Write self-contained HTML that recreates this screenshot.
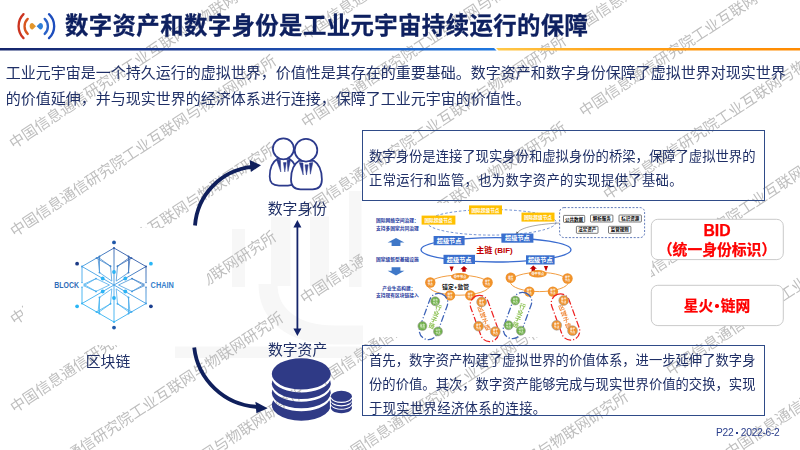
<!DOCTYPE html>
<html lang="zh-CN">
<head>
<meta charset="utf-8">
<title>数字资产和数字身份是工业元宇宙持续运行的保障</title>
<style>
html,body{margin:0;padding:0;background:#fff}
body{width:800px;height:450px;position:relative;overflow:hidden;font-family:"Liberation Sans","Noto Sans CJK SC",sans-serif;color:#1f2f66}
.abs{position:absolute}
.wm{position:absolute;white-space:nowrap;font-size:15.0px;line-height:20px;height:20px;color:#bebebe;transform-origin:0 50%;transform:rotate(-33.5deg)}
#txt{position:absolute;left:0;top:0;width:800px;height:450px;will-change:transform}
#wml{position:absolute;left:0;top:0;width:800px;height:450px;overflow:hidden;will-change:transform}
#gfx{position:absolute;left:0;top:0;width:800px;height:450px}
.title{position:absolute;left:65px;top:9.5px;font-size:23.4px;letter-spacing:0.4px;line-height:32px;font-weight:bold;color:#0e2060;-webkit-text-stroke:0.28px #0e2060;white-space:nowrap}
.body{position:absolute;left:5.8px;top:60.3px;font-size:15px;line-height:26px;white-space:nowrap;color:#1f2f66}
.lbl{position:absolute;font-size:14.8px;line-height:20px;white-space:nowrap;text-align:center;color:#1f2f66}
.box{position:absolute;box-sizing:border-box;border:1.2px solid #2f4b88}
.bt{position:absolute;font-size:13.33px;white-space:nowrap;color:#1f2f66;width:385.5px;text-align:justify;text-align-last:justify}
.bt.l{text-align-last:left;letter-spacing:0.32px}
.red{position:absolute;color:#fe0000;-webkit-text-stroke:0.25px #fe0000;font-weight:bold;text-align:center;white-space:nowrap}
.foot{position:absolute;left:716px;top:426.6px;font-size:10.2px;letter-spacing:-0.28px;line-height:12px;color:#2b3f8c;white-space:nowrap}
</style>
</head>
<body>
<!-- faint background logo -->
<svg class="abs" style="left:0;top:0" width="800" height="450" viewBox="0 0 800 450">
<g fill="#f7f7f7"><rect x="232" y="229" width="13" height="58"/><rect x="271" y="217" width="19.5" height="69"/><rect x="310" y="216.5" width="19" height="69.5"/><rect x="349" y="191" width="12.5" height="96"/><rect x="175" y="346.5" width="188" height="11.5"/></g>
<path d="M268,284 C268,314 292,335 335,335 L363,335" stroke="#f7f7f7" stroke-width="19" fill="none"/>
</svg>
<!-- watermark -->
<div id="wml">

<div class="wm" style="left:11.4px;top:134.6px">中国信息通信研究院工业互联网与物联网研究所</div>
<div class="wm" style="left:11.5px;top:223.3px">中国信息通信研究院工业互联网与物联网研究所</div>
<div class="wm" style="left:11.9px;top:310.6px">中国信息通信研究院工业互联网与物联网研究所</div>
<div class="wm" style="left:11.5px;top:398.7px">中国信息通信研究院工业互联网与物联网研究所</div>
<div class="wm" style="left:18.6px;top:480.3px">中国信息通信研究院工业互联网与物联网研究所</div>
<div class="wm" style="left:40.3px;top:554.5px">中国信息通信研究院工业互联网与物联网研究所</div>
<div class="wm" style="left:302.6px;top:25.8px">中国信息通信研究院工业互联网与物联网研究所</div>
<div class="wm" style="left:302.6px;top:114.0px">中国信息通信研究院工业互联网与物联网研究所</div>
<div class="wm" style="left:302.0px;top:202.9px">中国信息通信研究院工业互联网与物联网研究所</div>
<div class="wm" style="left:302.4px;top:289.5px">中国信息通信研究院工业互联网与物联网研究所</div>
<div class="wm" style="left:317.4px;top:373.6px">中国信息通信研究院工业互联网与物联网研究所</div>
<div class="wm" style="left:339.6px;top:451.3px">中国信息通信研究院工业互联网与物联网研究所</div>
<div class="wm" style="left:363.6px;top:559.3px">中国信息通信研究院工业互联网与物联网研究所</div>
<div class="wm" style="left:564.6px;top:-62.7px">中国信息通信研究院工业互联网与物联网研究所</div>
<div class="wm" style="left:572.0px;top:21.1px">中国信息通信研究院工业互联网与物联网研究所</div>
<div class="wm" style="left:581.3px;top:102.6px">中国信息通信研究院工业互联网与物联网研究所</div>
<div class="wm" style="left:605.3px;top:186.0px">中国信息通信研究院工业互联网与物联网研究所</div>
<div class="wm" style="left:628.1px;top:275.9px">中国信息通信研究院工业互联网与物联网研究所</div>
<div class="wm" style="left:668.2px;top:361.8px">中国信息通信研究院工业互联网与物联网研究所</div>
<div class="wm" style="left:727.1px;top:444.3px">中国信息通信研究院工业互联网与物联网研究所</div>
</div>
<svg id="gfx" viewBox="0 0 800 450" width="800" height="450" font-family="'Liberation Sans', 'Noto Sans CJK SC', sans-serif">
<defs>
<linearGradient id="gblue" x1="0" y1="0" x2="1" y2="0"><stop offset="0" stop-color="#15256b"/><stop offset="0.45" stop-color="#1c3f9c"/><stop offset="1" stop-color="#1f78e0"/></linearGradient>
<linearGradient id="gorg" x1="0" y1="0" x2="1" y2="0"><stop offset="0" stop-color="#ffc94a"/><stop offset="0.35" stop-color="#ffa31a"/><stop offset="1" stop-color="#ff8a00"/></linearGradient>
<linearGradient id="gchain" x1="0" y1="1" x2="0.6" y2="0"><stop offset="0" stop-color="#35b8f5"/><stop offset="0.5" stop-color="#4a9fe6"/><stop offset="1" stop-color="#2a5cb0"/></linearGradient>
</defs>

<!-- title rule -->
<path d="M0,48 L494,48 L496.5,50.4 L0,50.4 Z" fill="url(#gblue)"/>
<path d="M496,48 L800,48 L800,50.4 L498.5,50.4 Z" fill="url(#gorg)"/>

<!-- title logo -->
<g fill="none" stroke-width="2.35" stroke-linecap="round">
<path d="M23.5,14.2 A17,17 0 0 0 23.5,38.1" stroke="#cc3420"/>
<path d="M27.7,18.9 A10.5,10.5 0 0 0 27.7,33.9" stroke="#d8561f"/>
<path d="M44.7,18.9 A10.4,10.4 0 0 1 44.7,33.9" stroke="#2a62c8"/>
<path d="M49,14.2 A16.4,16.4 0 0 1 49,38.1" stroke="#1d4dbd"/>
</g>
<path d="M36.0,26.2 L32.9,23.2 Q31.6,22.6 30.6,23.6 Q29.6,24.8 29.6,26.2 Q29.6,27.6 30.6,28.8 Q31.6,29.8 32.9,29.2 Z" fill="#e2962c"/>
<path d="M36.6,26.2 L39.7,23.2 Q41,22.6 42,23.6 Q43,24.8 43,26.2 Q43,27.6 42,28.8 Q41,29.8 39.7,29.2 Z" fill="#2f7fd8"/>

<!-- blockchain image (white bg) -->
<rect x="23" y="228" width="184" height="117" fill="#fff"/>
<linearGradient id="gch" gradientUnits="userSpaceOnUse" x1="84" y1="318" x2="126" y2="248"><stop offset="0" stop-color="#2fb8f6"/><stop offset="0.5" stop-color="#45a6ea"/><stop offset="1" stop-color="#2b4f9e"/></linearGradient>
<g fill="none" stroke="url(#gch)" stroke-width="0.9" stroke-linejoin="round">
<path d="M114.0,248.0 L146.0,266.5 L146.0,303.5 L114.0,322.0 L82.0,303.5 L82.0,266.5 Z"/>
<path d="M114.0,248.0 L114.0,322.0"/>
<path d="M146.0,266.5 L82.0,303.5"/>
<path d="M146.0,303.5 L82.0,266.5"/>
<path d="M116.2,281.1 L117.5,266.2 L130.0,257.2 L128.5,272.6 Z" stroke-width="0.75"/>
<path d="M118.5,285.0 L132.0,278.6 L146.0,285.0 L132.0,291.4 Z" stroke-width="0.75"/>
<path d="M116.2,288.9 L128.5,297.4 L130.0,312.8 L117.5,303.8 Z" stroke-width="0.75"/>
<path d="M111.8,288.9 L110.5,303.8 L98.0,312.8 L99.5,297.4 Z" stroke-width="0.75"/>
<path d="M109.5,285.0 L96.0,291.4 L82.0,285.0 L96.0,278.6 Z" stroke-width="0.75"/>
<path d="M111.8,281.1 L99.5,272.6 L98.0,257.2 L110.5,266.2 Z" stroke-width="0.75"/>
<path d="M117.5,266.2 L131.5,258.1" stroke-width="0.75"/>
<path d="M128.5,272.6 L128.5,256.4" stroke-width="0.75"/>
<path d="M132.0,278.6 L146.0,286.7" stroke-width="0.75"/>
<path d="M132.0,291.4 L146.0,283.3" stroke-width="0.75"/>
<path d="M128.5,297.4 L128.5,313.6" stroke-width="0.75"/>
<path d="M117.5,303.8 L131.5,311.9" stroke-width="0.75"/>
<path d="M110.5,303.8 L96.5,311.9" stroke-width="0.75"/>
<path d="M99.5,297.4 L99.5,313.6" stroke-width="0.75"/>
<path d="M96.0,291.4 L82.0,283.3" stroke-width="0.75"/>
<path d="M96.0,278.6 L82.0,286.7" stroke-width="0.75"/>
<path d="M99.5,272.6 L99.5,256.4" stroke-width="0.75"/>
<path d="M110.5,266.2 L96.5,258.1" stroke-width="0.75"/>
</g>
<g fill="url(#gch)">
<circle cx="114.0" cy="248.0" r="1"/>
<circle cx="146.0" cy="266.5" r="1"/>
<circle cx="146.0" cy="303.5" r="1"/>
<circle cx="114.0" cy="322.0" r="1"/>
<circle cx="82.0" cy="303.5" r="1"/>
<circle cx="82.0" cy="266.5" r="1"/>
<circle cx="117.5" cy="266.2" r="0.95"/>
<circle cx="128.5" cy="272.6" r="0.95"/>
<circle cx="132.0" cy="278.6" r="0.95"/>
<circle cx="132.0" cy="291.4" r="0.95"/>
<circle cx="128.5" cy="297.4" r="0.95"/>
<circle cx="117.5" cy="303.8" r="0.95"/>
<circle cx="110.5" cy="303.8" r="0.95"/>
<circle cx="99.5" cy="297.4" r="0.95"/>
<circle cx="96.0" cy="291.4" r="0.95"/>
<circle cx="96.0" cy="278.6" r="0.95"/>
<circle cx="99.5" cy="272.6" r="0.95"/>
<circle cx="110.5" cy="266.2" r="0.95"/>
<circle cx="131.5" cy="258.1" r="0.95"/>
<circle cx="128.5" cy="256.4" r="0.95"/>
<circle cx="146.0" cy="286.7" r="0.95"/>
<circle cx="146.0" cy="283.3" r="0.95"/>
<circle cx="128.5" cy="313.6" r="0.95"/>
<circle cx="131.5" cy="311.9" r="0.95"/>
<circle cx="96.5" cy="311.9" r="0.95"/>
<circle cx="99.5" cy="313.6" r="0.95"/>
<circle cx="82.0" cy="283.3" r="0.95"/>
<circle cx="82.0" cy="286.7" r="0.95"/>
<circle cx="99.5" cy="256.4" r="0.95"/>
<circle cx="96.5" cy="258.1" r="0.95"/>
</g>
<circle cx="114.0" cy="242.4" r="1.9" fill="#1f57a8"/>
<circle cx="150.9" cy="263.7" r="1.9" fill="#29b6f6"/>
<circle cx="150.9" cy="306.3" r="1.9" fill="#1b3f8f"/>
<circle cx="114.0" cy="327.6" r="1.9" fill="#1f57a8"/>
<circle cx="77.1" cy="306.3" r="1.9" fill="#29b6f6"/>
<circle cx="77.1" cy="263.7" r="1.9" fill="#1b3a86"/>
<circle cx="114.0" cy="272.0" r="1.9" fill="#2bb3f5"/>
<circle cx="125.3" cy="278.5" r="1.9" fill="#2bb3f5"/>
<circle cx="125.3" cy="291.5" r="1.9" fill="#2bb3f5"/>
<circle cx="114.0" cy="298.0" r="1.9" fill="#2bb3f5"/>
<circle cx="102.7" cy="291.5" r="1.9" fill="#2bb3f5"/>
<circle cx="102.7" cy="278.5" r="1.9" fill="#2bb3f5"/>
<rect x="80.5" y="283.1" width="3" height="3.6" fill="#fff"/><rect x="144.5" y="283.1" width="3" height="3.6" fill="#fff"/>
<g font-weight="bold" font-size="9.3" lengthAdjust="spacingAndGlyphs"><text x="54.3" y="288.1" textLength="24.6" lengthAdjust="spacingAndGlyphs" fill="#2f6cb8">BLOCK</text><text x="150.6" y="288.1" textLength="23.2" lengthAdjust="spacingAndGlyphs" fill="#3580cc">CHAIN</text></g>

<!-- arrows -->
<g fill="none" stroke="#0f1f5c" stroke-width="3.8">
<path d="M195,225.5 A63.8,63.8 0 0 1 252,166.8"/>
<path d="M194.2,347.5 A67.2,67.2 0 0 0 257,406.8"/>
</g>
<path d="M249.6,160 L261,165.2 L250.9,172 Z" fill="#0f1f5c"/>
<path d="M255.4,401.8 L267.6,408.3 L256.4,413.2 Z" fill="#0f1f5c"/>
<path d="M297.4,226 L297.4,330" stroke="#14246a" stroke-width="1.8" fill="none"/>
<path d="M297.4,220 L301.4,227.6 L293.4,227.6 Z" fill="#14246a"/>
<path d="M297.4,336 L301.4,328.6 L293.4,328.6 Z" fill="#14246a"/>

<!-- people icon -->
<g stroke="#2c3a8c" stroke-width="1.75" fill="#fff" stroke-linejoin="round">
<path d="M277.5,158.8 C271.5,162.5 269.7,170.5 269.7,176.5 C269.7,183 272.5,185.5 279,185.5 L288,185.5 C294.5,185.5 297.2,183 297.2,176.5 C297.2,170.5 295.3,162.5 289.3,158.8 Z"/>
<circle cx="283.4" cy="148.8" r="10.5"/>
<path d="M299,160.8 C293,164.5 291,173 291,179.5 C291,186.5 294,189.3 300.5,189.3 L312.5,189.3 C319,189.3 321.9,186.5 321.9,179.5 C321.9,173 319.8,164.5 313.8,160.8 Z"/>
<circle cx="306" cy="150.2" r="11.3"/>
</g>
<g fill="#2c3a8c" stroke="#2c3a8c" stroke-width="0.5" stroke-linejoin="round">
<path d="M276.6,159.8 L280.4,160.2 L280.8,172 Z"/><path d="M283.4,162.6 L286.2,162.6 L284.8,172 Z"/><path d="M287,160.2 L290.5,159.8 L288,171.5 Z"/>
<path d="M299.3,162.6 L303,163 L303.2,175 Z"/><path d="M305,164.8 L308.2,164.8 L306.5,175 Z"/><path d="M309.4,163 L312.8,162.6 L310.4,174.2 Z"/>
</g>

<!-- coins -->
<g fill="#2f3a86">
<ellipse cx="301.3" cy="373.9" rx="29.5" ry="15.6"/>
<path d="M272.45,380.15 A29.5,15.6 0 1 0 330.15,380.15 A29.5,15.6 0 0 1 272.45,380.15 Z"/>
<path d="M272.47,389.40 A29.5,15.6 0 1 0 330.13,389.40 A29.5,15.6 0 0 1 272.47,389.40 Z"/>
<path d="M273.20,400.35 A29.5,15.6 0 1 0 329.40,400.35 A29.5,15.6 0 0 1 273.20,400.35 Z"/>
</g>
<path d="M329.9,396.3 A11.5,6.4 0 0 1 352.9,396.3 L352.9,407.7 A11.5,6.4 0 0 1 329.9,407.7 Z" fill="#fff"/>
<g fill="#2f3a86">
<ellipse cx="341.4" cy="396.3" rx="10.6" ry="5.5"/>
<path d="M331.01,398.70 A10.6,5.5 0 1 0 351.79,398.70 A10.6,5.5 0 0 1 331.01,398.70 Z"/>
<path d="M331.06,402.10 A10.6,5.5 0 1 0 351.74,402.10 A10.6,5.5 0 0 1 331.06,402.10 Z"/>
<path d="M331.35,405.95 A10.6,5.5 0 1 0 351.45,405.95 A10.6,5.5 0 0 1 331.35,405.95 Z"/>
</g>

<!-- centre diagram (white bg) -->
<rect x="363" y="203" width="288" height="134" fill="#fff"/>
<g font-weight="bold" fill="#1f3a9e" font-size="4.75" text-anchor="middle">
<text x="397.5" y="222.3">国际网络空间治理：</text><text x="397.5" y="230.3">支持多国家共同治理</text>
<text x="397.5" y="260.6">国家级新型基础设施</text>
<text x="399" y="289.6">产业生态构建：</text><text x="397.5" y="297.4">支持现有区块链接入</text>
</g>
<path d="M396,238 L404.4,242.6 L400.4,242.6 L400.4,246 L391.6,246 L391.6,242.6 L387.6,242.6 Z" fill="#3f78c8"/>
<path d="M396,275.4 L404.4,270.8 L400.4,270.8 L400.4,267.2 L391.6,267.2 L391.6,270.8 L387.6,270.8 Z" fill="#3f78c8"/>
<ellipse cx="491.5" cy="222.3" rx="64.5" ry="12.8" fill="none" stroke="#4a72c4" stroke-width="0.8" stroke-dasharray="2.6 2"/>
<ellipse cx="496" cy="249.8" rx="75" ry="12.2" fill="none" stroke="#3a6cd0" stroke-width="1.3"/>
<path d="M517,233.4 C520,227 540,224 559.5,223" fill="none" stroke="#555" stroke-width="0.5"/>
<path d="M516.2,234.4 L516.5,231.6 L518.6,232.8 Z" fill="#555"/>
<rect x="421.6" y="215.6" width="33.8" height="9" fill="#ffc000"/>
<text x="438.5" y="221.9" font-size="4.7" font-weight="bold" fill="#fff" text-anchor="middle">国际超级节点</text>
<rect x="469" y="205.4" width="33" height="9" fill="#ffc000"/>
<text x="485.5" y="211.7" font-size="4.7" font-weight="bold" fill="#fff" text-anchor="middle">国际超级节点</text>
<rect x="521.5" y="212.6" width="33" height="9" fill="#ffc000"/>
<text x="538.0" y="218.9" font-size="4.7" font-weight="bold" fill="#fff" text-anchor="middle">国际超级节点</text>
<rect x="433.6" y="236" width="31" height="9.2" fill="#3a6fce"/>
<text x="449.1" y="242.9" font-size="6.2" font-weight="bold" fill="#fff" text-anchor="middle">超级节点</text>
<rect x="443.5" y="254.8" width="31.5" height="9.2" fill="#3a6fce"/>
<text x="459.2" y="261.7" font-size="6.2" font-weight="bold" fill="#fff" text-anchor="middle">超级节点</text>
<rect x="501.4" y="233.5" width="32" height="9.2" fill="#3a6fce"/>
<text x="517.4" y="240.4" font-size="6.2" font-weight="bold" fill="#fff" text-anchor="middle">超级节点</text>
<rect x="526" y="255.3" width="28.6" height="9.2" fill="#3a6fce"/>
<text x="540.3" y="262.2" font-size="6.2" font-weight="bold" fill="#fff" text-anchor="middle">超级节点</text>
<g font-size="8" font-weight="bold" fill="#c00000"><text x="476.3" y="252.6">主链</text><text x="494.5" y="252.6">(BIF)</text></g>
<rect x="559.6" y="207.6" width="85" height="30" rx="4.5" fill="#fff" stroke="#3b5aa8" stroke-width="0.8" stroke-dasharray="2 1.6"/>
<rect x="563.5" y="215.4" width="21.2" height="7" rx="0.8" fill="#fff" stroke="#222" stroke-width="0.6"/>
<text x="574.1" y="220.5" font-size="4.5" font-weight="bold" fill="#000" text-anchor="middle">公共数据</text>
<rect x="590.5" y="215" width="22.4" height="7" rx="0.8" fill="#fff" stroke="#222" stroke-width="0.6"/>
<text x="601.7" y="220.1" font-size="4.5" font-weight="bold" fill="#000" text-anchor="middle">解析服务</text>
<rect x="619" y="215" width="22.4" height="7" rx="0.8" fill="#fff" stroke="#222" stroke-width="0.6"/>
<text x="630.2" y="220.1" font-size="4.5" font-weight="bold" fill="#000" text-anchor="middle">标识资源</text>
<rect x="576.4" y="226.3" width="21.6" height="7" rx="0.8" fill="#fff" stroke="#222" stroke-width="0.6"/>
<text x="587.2" y="231.4" font-size="4.5" font-weight="bold" fill="#000" text-anchor="middle">法定资产</text>
<rect x="608.5" y="226.3" width="22.4" height="7" rx="0.8" fill="#fff" stroke="#222" stroke-width="0.6"/>
<text x="619.7" y="231.4" font-size="4.5" font-weight="bold" fill="#000" text-anchor="middle">监管规则</text>
<path d="M449.5,266.4 L453.70000000000005,266.4 L451.6,271.8 Z" fill="#c00000"/>
<path d="M464,266 L467.6,269.2 L465.7,269.2 L465.7,271.8 L462.3,271.8 L462.3,269.2 L460.4,269.2 Z" fill="#c00000"/>
<path d="M533.3,265.6 L536.9,268.8 L535.0,268.8 L535.0,271.40000000000003 L531.5999999999999,271.40000000000003 L531.5999999999999,268.8 L529.6999999999999,268.8 Z" fill="#c00000"/>
<path d="M543.9,266.0 L548.1,266.0 L546,271.40000000000003 Z" fill="#c00000"/>
<ellipse cx="459" cy="285.2" rx="31" ry="10" fill="none" stroke="#f0922b" stroke-width="0.9"/>
<ellipse cx="460" cy="276.6" rx="9" ry="3.7" fill="#f0922b"/><text x="460" y="277.8" font-size="3.2" font-weight="bold" fill="#fff" text-anchor="middle">骨干节点</text>
<circle cx="430.3" cy="282.5" r="5.2" fill="#f0922b"/>
<text x="430.3" y="282.2" font-size="2.6" font-weight="bold" fill="#fff" text-anchor="middle">骨干</text><text x="430.3" y="285.0" font-size="2.6" font-weight="bold" fill="#fff" text-anchor="middle">节点</text>
<circle cx="487.6" cy="282.5" r="5.2" fill="#f0922b"/>
<text x="487.6" y="282.2" font-size="2.6" font-weight="bold" fill="#fff" text-anchor="middle">骨干</text><text x="487.6" y="285.0" font-size="2.6" font-weight="bold" fill="#fff" text-anchor="middle">节点</text>
<circle cx="450" cy="295.4" r="5.2" fill="#f0922b"/>
<text x="450" y="295.09999999999997" font-size="2.6" font-weight="bold" fill="#fff" text-anchor="middle">骨干</text><text x="450" y="297.9" font-size="2.6" font-weight="bold" fill="#fff" text-anchor="middle">节点</text>
<circle cx="470.3" cy="295.4" r="5.2" fill="#f0922b"/>
<text x="470.3" y="295.09999999999997" font-size="2.6" font-weight="bold" fill="#fff" text-anchor="middle">骨干</text><text x="470.3" y="297.9" font-size="2.6" font-weight="bold" fill="#fff" text-anchor="middle">节点</text>
<g font-size="5.8" font-weight="bold" fill="#111"><text x="442.1" y="289.2">锚定</text><text x="454.1" y="289.2">+</text><text x="457.5" y="289.2">监管</text></g>
<ellipse cx="539.4" cy="282" rx="29" ry="9.6" fill="none" stroke="#f0922b" stroke-width="0.9"/>
<ellipse cx="537.8" cy="273.8" rx="9" ry="3.7" fill="#f0922b"/><text x="537.8" y="275" font-size="3.2" font-weight="bold" fill="#fff" text-anchor="middle">骨干节点</text>
<circle cx="510.8" cy="277.8" r="5.2" fill="#f0922b"/>
<text x="510.8" y="277.5" font-size="2.6" font-weight="bold" fill="#fff" text-anchor="middle">骨干</text><text x="510.8" y="280.3" font-size="2.6" font-weight="bold" fill="#fff" text-anchor="middle">节点</text>
<circle cx="567.5" cy="278.5" r="5.2" fill="#f0922b"/>
<text x="567.5" y="278.2" font-size="2.6" font-weight="bold" fill="#fff" text-anchor="middle">骨干</text><text x="567.5" y="281.0" font-size="2.6" font-weight="bold" fill="#fff" text-anchor="middle">节点</text>
<circle cx="529.3" cy="291.6" r="5.2" fill="#f0922b"/>
<text x="529.3" y="291.3" font-size="2.6" font-weight="bold" fill="#fff" text-anchor="middle">骨干</text><text x="529.3" y="294.1" font-size="2.6" font-weight="bold" fill="#fff" text-anchor="middle">节点</text>
<circle cx="552.9" cy="291.6" r="5.2" fill="#f0922b"/>
<text x="552.9" y="291.3" font-size="2.6" font-weight="bold" fill="#fff" text-anchor="middle">骨干</text><text x="552.9" y="294.1" font-size="2.6" font-weight="bold" fill="#fff" text-anchor="middle">节点</text>
<g transform="translate(433.5,316.5) rotate(20)">
<rect x="-9.2" y="-24" width="18.4" height="48" rx="9.2" fill="none" stroke="#3d63b8" stroke-width="1.25" stroke-dasharray="7 2 1.2 2"/>
<text x="1.5" y="-8.0" font-size="6.2" font-weight="bold" fill="#8cc152" text-anchor="middle">行</text>
<text x="1.5" y="-1.4" font-size="6.2" font-weight="bold" fill="#8cc152" text-anchor="middle">业</text>
<text x="1.5" y="5.2" font-size="6.2" font-weight="bold" fill="#8cc152" text-anchor="middle">子</text>
<text x="1.5" y="11.8" font-size="6.2" font-weight="bold" fill="#8cc152" text-anchor="middle">链</text>
</g>
<g transform="translate(484.5,318.5) rotate(-20)">
<rect x="-9.2" y="-24" width="18.4" height="48" rx="9.2" fill="none" stroke="#ee2222" stroke-width="1.25" stroke-dasharray="7 2 1.2 2"/>
<text x="-0.5" y="-8.0" font-size="6.2" font-weight="bold" fill="#f08a3c" text-anchor="middle">区</text>
<text x="-0.5" y="-1.4" font-size="6.2" font-weight="bold" fill="#f08a3c" text-anchor="middle">域</text>
<text x="-0.5" y="5.2" font-size="6.2" font-weight="bold" fill="#f08a3c" text-anchor="middle">子</text>
<text x="-0.5" y="11.8" font-size="6.2" font-weight="bold" fill="#f08a3c" text-anchor="middle">链</text>
</g>
<g transform="translate(517.5,315.5) rotate(20)">
<rect x="-9.2" y="-24" width="18.4" height="48" rx="9.2" fill="none" stroke="#3d63b8" stroke-width="1.25" stroke-dasharray="7 2 1.2 2"/>
<text x="1.5" y="-8.0" font-size="6.2" font-weight="bold" fill="#8cc152" text-anchor="middle">行</text>
<text x="1.5" y="-1.4" font-size="6.2" font-weight="bold" fill="#8cc152" text-anchor="middle">业</text>
<text x="1.5" y="5.2" font-size="6.2" font-weight="bold" fill="#8cc152" text-anchor="middle">子</text>
<text x="1.5" y="11.8" font-size="6.2" font-weight="bold" fill="#8cc152" text-anchor="middle">链</text>
</g>
<g transform="translate(565.5,317) rotate(-20)">
<rect x="-9.2" y="-24" width="18.4" height="48" rx="9.2" fill="none" stroke="#ee2222" stroke-width="1.25" stroke-dasharray="7 2 1.2 2"/>
<text x="-0.5" y="-8.0" font-size="6.2" font-weight="bold" fill="#f08a3c" text-anchor="middle">区</text>
<text x="-0.5" y="-1.4" font-size="6.2" font-weight="bold" fill="#f08a3c" text-anchor="middle">域</text>
<text x="-0.5" y="5.2" font-size="6.2" font-weight="bold" fill="#f08a3c" text-anchor="middle">子</text>
<text x="-0.5" y="11.8" font-size="6.2" font-weight="bold" fill="#f08a3c" text-anchor="middle">链</text>
</g>
<circle cx="435.2" cy="301.2" r="4.5" fill="#6fb04a" stroke="#9a9a9a" stroke-width="0.6"/>
<text x="435.2" y="300.9" font-size="2.5" font-weight="bold" fill="#e8f5dc" text-anchor="middle">业务</text><text x="435.2" y="303.59999999999997" font-size="2.5" font-weight="bold" fill="#e8f5dc" text-anchor="middle">节点</text>
<circle cx="422.4" cy="326" r="4.5" fill="#6fb04a" stroke="#9a9a9a" stroke-width="0.6"/>
<text x="422.4" y="325.7" font-size="2.5" font-weight="bold" fill="#e8f5dc" text-anchor="middle">业务</text><text x="422.4" y="328.4" font-size="2.5" font-weight="bold" fill="#e8f5dc" text-anchor="middle">节点</text>
<circle cx="438" cy="331.4" r="4.5" fill="#6fb04a" stroke="#9a9a9a" stroke-width="0.6"/>
<text x="438" y="331.09999999999997" font-size="2.5" font-weight="bold" fill="#e8f5dc" text-anchor="middle">业务</text><text x="438" y="333.79999999999995" font-size="2.5" font-weight="bold" fill="#e8f5dc" text-anchor="middle">节点</text>
<circle cx="515.3" cy="300.5" r="4.5" fill="#6fb04a" stroke="#9a9a9a" stroke-width="0.6"/>
<text x="515.3" y="300.2" font-size="2.5" font-weight="bold" fill="#e8f5dc" text-anchor="middle">业务</text><text x="515.3" y="302.9" font-size="2.5" font-weight="bold" fill="#e8f5dc" text-anchor="middle">节点</text>
<circle cx="508.6" cy="325.3" r="4.5" fill="#6fb04a" stroke="#9a9a9a" stroke-width="0.6"/>
<text x="508.6" y="325.0" font-size="2.5" font-weight="bold" fill="#e8f5dc" text-anchor="middle">业务</text><text x="508.6" y="327.7" font-size="2.5" font-weight="bold" fill="#e8f5dc" text-anchor="middle">节点</text>
<circle cx="520.9" cy="330.7" r="4.5" fill="#6fb04a" stroke="#9a9a9a" stroke-width="0.6"/>
<text x="520.9" y="330.4" font-size="2.5" font-weight="bold" fill="#e8f5dc" text-anchor="middle">业务</text><text x="520.9" y="333.09999999999997" font-size="2.5" font-weight="bold" fill="#e8f5dc" text-anchor="middle">节点</text>
<circle cx="481.6" cy="302" r="4.9" fill="#f0922b" stroke="#9a9a9a" stroke-width="0.6"/>
<text x="481.6" y="301.7" font-size="2.6" font-weight="bold" fill="#fff" text-anchor="middle">骨干</text><text x="481.6" y="304.5" font-size="2.6" font-weight="bold" fill="#fff" text-anchor="middle">节点</text>
<circle cx="478.6" cy="326.2" r="4.9" fill="#f0922b" stroke="#9a9a9a" stroke-width="0.6"/>
<text x="478.6" y="325.9" font-size="2.6" font-weight="bold" fill="#fff" text-anchor="middle">骨干</text><text x="478.6" y="328.7" font-size="2.6" font-weight="bold" fill="#fff" text-anchor="middle">节点</text>
<circle cx="495.3" cy="331.6" r="4.9" fill="#f0922b" stroke="#9a9a9a" stroke-width="0.6"/>
<text x="495.3" y="331.3" font-size="2.6" font-weight="bold" fill="#fff" text-anchor="middle">骨干</text><text x="495.3" y="334.1" font-size="2.6" font-weight="bold" fill="#fff" text-anchor="middle">节点</text>
<circle cx="563.7" cy="300.5" r="4.9" fill="#f0922b" stroke="#9a9a9a" stroke-width="0.6"/>
<text x="563.7" y="300.2" font-size="2.6" font-weight="bold" fill="#fff" text-anchor="middle">骨干</text><text x="563.7" y="303.0" font-size="2.6" font-weight="bold" fill="#fff" text-anchor="middle">节点</text>
<circle cx="556.7" cy="325.3" r="4.9" fill="#f0922b" stroke="#9a9a9a" stroke-width="0.6"/>
<text x="556.7" y="325.0" font-size="2.6" font-weight="bold" fill="#fff" text-anchor="middle">骨干</text><text x="556.7" y="327.8" font-size="2.6" font-weight="bold" fill="#fff" text-anchor="middle">节点</text>
<circle cx="572.5" cy="330.7" r="4.9" fill="#f0922b" stroke="#9a9a9a" stroke-width="0.6"/>
<text x="572.5" y="330.4" font-size="2.6" font-weight="bold" fill="#fff" text-anchor="middle">骨干</text><text x="572.5" y="333.2" font-size="2.6" font-weight="bold" fill="#fff" text-anchor="middle">节点</text>

<!-- BID boxes -->
<rect x="651.3" y="219.3" width="132" height="40.3" rx="6.5" fill="#fff" stroke="#c4c4c4" stroke-width="0.9"/>
<rect x="651.3" y="285.3" width="132" height="40.3" rx="6.5" fill="#fff" stroke="#c4c4c4" stroke-width="0.9"/>
</svg>

<div id="txt">

<div class="title">数字资产和数字身份是工业元宇宙持续运行的保障</div>
<div class="body">工业元宇宙是一个持久运行的虚拟世界，价值性是其存在的重要基础。数字资产和数字身份保障了虚拟世界对现实世界<br>的价值延伸，并与现实世界的经济体系进行连接，保障了工业元宇宙的价值性。</div>

<div class="lbl" style="left:257.4px;top:198.5px;width:80px">数字身份</div>
<div class="lbl" style="left:257.6px;top:340px;width:80px">数字资产</div>
<div class="lbl" style="left:68px;top:351.8px;width:80px">区块链</div>

<div class="box" style="left:362px;top:129.5px;width:403px;height:71.5px"></div>
<div class="bt" style="left:369px;top:145.4px;line-height:23.2px">数字身份是连接了现实身份和虚拟身份的桥梁，保障了虚拟世界的</div>
<div class="bt l" style="left:369px;top:168.8px;line-height:23.2px">正常运行和监管，也为数字资产的实现提供了基础。</div>

<div class="box" style="left:362px;top:345.2px;width:403px;height:71px"></div>
<div class="bt" style="left:369px;top:348.5px;line-height:24.4px">首先，数字资产构建了虚拟世界的价值体系，进一步延伸了数字身</div>
<div class="bt" style="left:369px;top:372.9px;line-height:24.4px">份的价值。其次，数字资产能够完成与现实世界价值的交换，实现</div>
<div class="bt l" style="left:369px;top:397.3px;line-height:24.4px">于现实世界经济体系的连接。</div>

<div class="red" style="left:651px;top:221.2px;width:132px;font-size:15.8px;line-height:19px">BID<br><span style="font-size:14.8px">（统一身份标识）</span></div>
<div class="red" style="left:651px;top:296.3px;width:132px;font-size:14.7px;line-height:20px"><span>星火</span><span style="display:inline-block;width:3.3px;height:3.3px;border-radius:50%;background:#fe0000;margin:0 2px 0 2.2px;vertical-align:3.6px"></span><span>链网</span></div>

<div class="foot">P22 <span style="display:inline-block;width:1.7px;height:1.7px;background:#2b3f8c;vertical-align:1.6px;margin:0 0.4px"></span> 2022-6-2</div>

</div>
</body>
</html>
